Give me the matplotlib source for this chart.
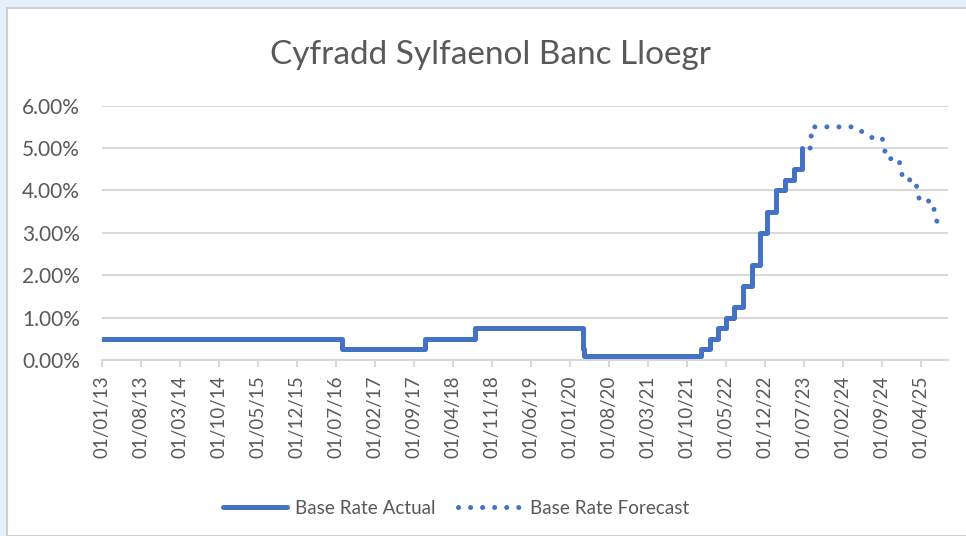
import pandas as pd
import matplotlib.pyplot as plt
import matplotlib.dates as mdates
from matplotlib.patches import Rectangle
from matplotlib.ticker import FuncFormatter

# Cyfradd sylfaenol wirioneddol (dyddiad newid, cyfradd %)
actual_dates = ['2013-01-01', '2016-08-04', '2017-11-02', '2018-08-02', '2020-03-11',
                '2020-03-19', '2021-12-16', '2022-02-03', '2022-03-17', '2022-05-05',
                '2022-06-16', '2022-08-04', '2022-09-22', '2022-11-03', '2022-12-15',
                '2023-02-02', '2023-03-23', '2023-05-11', '2023-06-22']
actual_values = [0.50, 0.25, 0.50, 0.75, 0.25,
                 0.10, 0.25, 0.50, 0.75, 1.00,
                 1.25, 1.75, 2.25, 3.00, 3.50,
                 4.00, 4.25, 4.50, 5.00]

# Rhagolwg (pwyntiau'r llinell)
forecast_dates = ['2023-08-05', '2023-08-15', '2024-04-05', '2024-07-01', '2024-09-01',
                  '2024-09-25', '2024-12-01', '2024-12-25', '2025-03-01', '2025-03-25',
                  '2025-06-01', '2025-06-30']
forecast_values = [5.00, 5.50, 5.50, 5.25, 5.25,
                   4.75, 4.75, 4.25, 4.25, 3.75,
                   3.75, 3.22]

tick_dates = pd.date_range('2013-01-01', '2025-04-01', freq='7MS')

blue = '#4472C4'
grey_text = '#595959'
grid_col = '#D9D9D9'
plt.rcParams['font.family'] = ['Lato', 'DejaVu Sans']

fig = plt.figure(figsize=(9.66, 5.36), dpi=100, facecolor='#E6F0FC')
# ffrâm y siart
fig.patches.append(Rectangle((7 / 966, 0), 1, (536 - 8) / 536, transform=fig.transFigure,
                             facecolor='white', edgecolor='#D0D0D0', linewidth=1.5, zorder=-10))

ax = fig.add_axes([102 / 966, 176 / 536, (948 - 102) / 966, (360 - 105.7) / 536])
ax.set_facecolor('none')

ad = pd.to_datetime(actual_dates)
fd = pd.to_datetime(forecast_dates)
ax.plot(ad, actual_values, drawstyle='steps-post', color=blue, linewidth=3.6,
        solid_joinstyle='round', solid_capstyle='round', label='Base Rate Actual', zorder=3)
ax.plot(fd, forecast_values, color=blue, linewidth=3.6, linestyle=(0, (0.01, 2.4)),
        dash_capstyle='round', label='Base Rate Forecast', zorder=3)

ax.set_ylim(0, 6)
ax.set_yticks(range(0, 7))
ax.yaxis.set_major_formatter(FuncFormatter(lambda v, p: f'{v:.2f}%'))
ax.set_xlim(pd.Timestamp('2013-01-01'), pd.Timestamp('2025-08-27'))
ax.set_xticks(tick_dates)
ax.xaxis.set_major_formatter(mdates.DateFormatter('%d/%m/%y'))

ax.grid(axis='y', color=grid_col, linewidth=1.5)
ax.set_axisbelow(True)
for s in ['top', 'right', 'left']:
    ax.spines[s].set_visible(False)
ax.spines['bottom'].set_color(grid_col)
ax.spines['bottom'].set_linewidth(1.5)
ax.tick_params(axis='y', length=0, pad=16, labelsize=15, labelcolor=grey_text)
ax.tick_params(axis='x', length=5, width=1.5, color=grid_col, pad=6, labelsize=13.5,
               labelcolor=grey_text, labelrotation=90)

fig.text(0.508, 0.898, 'Cyfradd Sylfaenol Banc Lloegr', ha='center', va='center',
         fontsize=24, color=grey_text)

fig.legend(loc='center', bbox_to_anchor=(0.472, 0.052), ncol=2, frameon=False,
           fontsize=13.6, labelcolor=grey_text, handlelength=3.4, columnspacing=1.2,
           handletextpad=0.4)

fig.savefig('out.png', dpi=100, facecolor=fig.get_facecolor())
